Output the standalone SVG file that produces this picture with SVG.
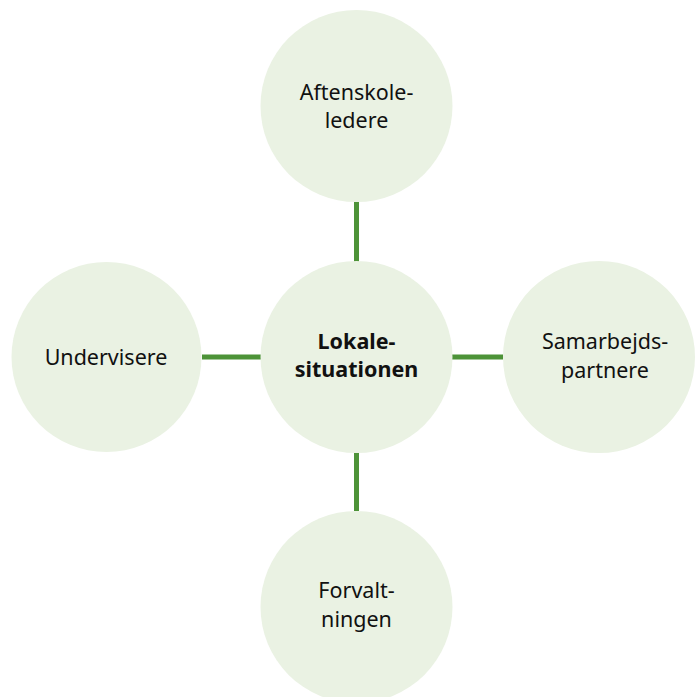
<svg xmlns="http://www.w3.org/2000/svg" width="697" height="697" viewBox="0 0 697 697">
<style>
.node{fill:#EAF2E3;}
.lbl{font-family:"Noto Sans","Open Sans","DejaVu Sans",sans-serif;font-size:21.5px;fill:#111;text-anchor:middle;}
.bold{font-weight:bold;}
.conn{stroke:#4D9338;stroke-width:5;fill:none;}
</style>
<rect width="697" height="697" fill="#ffffff"/>
<g id="connectors">
<line class="conn" x1="356.5" y1="202" x2="356.5" y2="262"/>
<line class="conn" x1="356.5" y1="453" x2="356.5" y2="511"/>
<line class="conn" x1="202" y1="357" x2="261" y2="357"/>
<line class="conn" x1="452" y1="357" x2="503" y2="357"/>
</g>
<g id="top">
<circle class="node" cx="356.5" cy="106" r="96"/>
<text class="lbl" x="356.5" y="100">Aftenskole-</text>
<text class="lbl" x="356.5" y="128">ledere</text>
</g>
<g id="left">
<circle class="node" cx="106.5" cy="357" r="95"/>
<text class="lbl" x="106" y="365">Undervisere</text>
</g>
<g id="right">
<circle class="node" cx="599" cy="357" r="96"/>
<text class="lbl" x="605" y="349">Samarbejds-</text>
<text class="lbl" x="605" y="378">partnere</text>
</g>
<g id="bottom">
<circle class="node" cx="356.5" cy="607" r="96"/>
<text class="lbl" x="356.5" y="598">Forvalt-</text>
<text class="lbl" x="356.5" y="627">ningen</text>
</g>
<g id="center">
<circle class="node" cx="356.5" cy="357" r="96"/>
<text class="lbl bold" x="356.5" y="349">Lokale-</text>
<text class="lbl bold" x="356.5" y="377">situationen</text>
</g>
</svg>
